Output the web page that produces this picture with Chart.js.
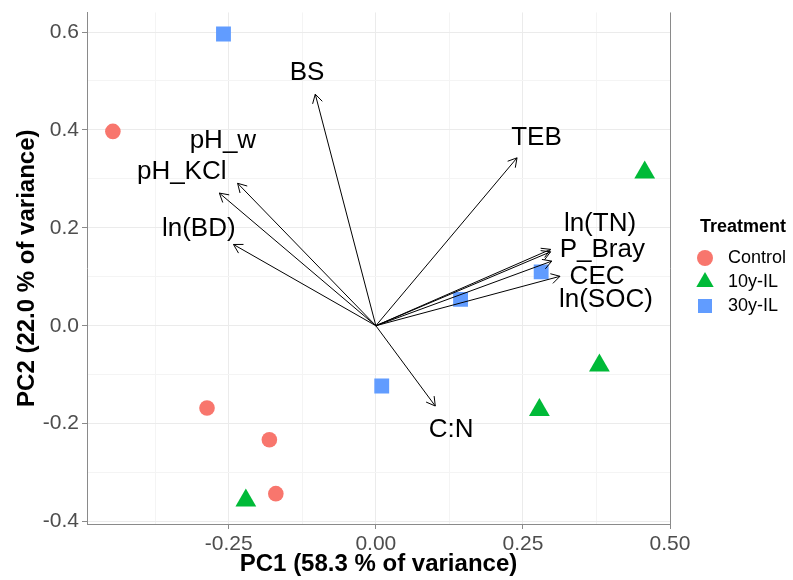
<!DOCTYPE html>
<html>
<head>
<meta charset="utf-8">
<script src="https://cdn.jsdelivr.net/npm/chart.js@4.4.1/dist/chart.umd.min.js"></script>
<style>
  html, body { margin: 0; padding: 0; background: #fff; }
</style>
</head>
<body>
<canvas id="pca" width="793" height="580"></canvas>
<script>
// sample scores on PC1 / PC2, one pair of arrays per treatment
const treatments = ['Control', '10y-IL', '30y-IL'];
const controlPC1 = [-0.447, -0.287, -0.181, -0.170];
const controlPC2 = [0.397, -0.168, -0.233, -0.343];
const il10PC1 = [-0.221, 0.457, 0.380, 0.278];
const il10PC2 = [-0.357, 0.313, -0.081, -0.172];
const il30PC1 = [-0.259, 0.010, 0.144, 0.281];
const il30PC2 = [0.596, -0.123, 0.054, 0.110];

// variable loadings (arrow tips) and where the names are written
const variables = ['BS', 'pH_w', 'pH_KCl', 'ln(BD)', 'TEB', 'ln(TN)', 'P_Bray', 'CEC', 'ln(SOC)', 'C:N'];
const loadPC1 = [-0.103, -0.235, -0.266, -0.242, 0.240, 0.297, 0.297, 0.299, 0.313, 0.101];
const loadPC2 = [0.473, 0.291, 0.271, 0.166, 0.343, 0.156, 0.151, 0.132, 0.101, -0.164];
const labelPC1 = [-0.117, -0.260, -0.330, -0.301, 0.273, 0.381, 0.385, 0.376, 0.391, 0.128];
const labelPC2 = [0.517, 0.378, 0.314, 0.198, 0.384, 0.209, 0.156, 0.100, 0.052, -0.212];

// axes
const xTicks = [-0.25, 0, 0.25, 0.5];
const xTickLabels = ['-0.25', '0.00', '0.25', '0.50'];
const xMinor = [-0.375, -0.125, 0.125, 0.375];
const yTicks = [-0.4, -0.2, 0, 0.2, 0.4, 0.6];
const yTickLabels = ['-0.4', '-0.2', '0.0', '0.2', '0.4', '0.6'];
const yMinor = [-0.3, -0.1, 0.1, 0.3, 0.5];

const colors = ['#F8766D', '#00BA38', '#619CFF'];
const FONT = "'Liberation Sans', Arial, sans-serif";
const AXIS = '#8a8a8a';

const pts = (xs, ys) => xs.map((v, i) => ({ x: v, y: ys[i] }));
const isIn = (arr, v) => arr.some(t => Math.abs(t - v) < 1e-6);
const labelFor = (majors, labels, v) => {
  const i = majors.findIndex(t => Math.abs(t - v) < 1e-6);
  return i < 0 ? '' : labels[i];
};

// arrows + variable names on top of the points
const biplotArrows = {
  id: 'biplotArrows',
  afterDatasetsDraw(chart) {
    const { ctx, scales: { x, y } } = chart;
    const x0 = x.getPixelForValue(0), y0 = y.getPixelForValue(0);
    ctx.save();
    ctx.strokeStyle = '#000';
    ctx.lineWidth = 1;
    variables.forEach((name, i) => {
      const x1 = x.getPixelForValue(loadPC1[i]);
      const y1 = y.getPixelForValue(loadPC2[i]);
      const a = Math.atan2(y1 - y0, x1 - x0);
      const len = 10, spread = Math.PI / 6;
      ctx.beginPath();
      ctx.moveTo(x0, y0);
      ctx.lineTo(x1, y1);
      ctx.moveTo(x1 - len * Math.cos(a - spread), y1 - len * Math.sin(a - spread));
      ctx.lineTo(x1, y1);
      ctx.lineTo(x1 - len * Math.cos(a + spread), y1 - len * Math.sin(a + spread));
      ctx.stroke();
    });
    ctx.fillStyle = '#000';
    ctx.font = '26px ' + FONT;
    ctx.textAlign = 'center';
    ctx.textBaseline = 'middle';
    variables.forEach((name, i) => {
      ctx.fillText(name, x.getPixelForValue(labelPC1[i]), y.getPixelForValue(labelPC2[i]));
    });
    ctx.restore();
  }
};

// ggplot-style legend on the right
const sideLegend = {
  id: 'sideLegend',
  afterDraw(chart) {
    const { ctx } = chart;
    ctx.save();
    ctx.textAlign = 'left';
    ctx.textBaseline = 'middle';
    ctx.fillStyle = '#000';
    ctx.font = 'bold 18px ' + FONT;
    ctx.fillText('Treatment', 700, 227);
    ctx.font = '18px ' + FONT;
    treatments.forEach((t, i) => {
      const cy = 258 + i * 24, cx = 705;
      ctx.fillStyle = colors[i];
      ctx.beginPath();
      if (i === 0) ctx.arc(cx, cy, 8, 0, Math.PI * 2);
      else if (i === 1) { ctx.moveTo(cx, cy - 10); ctx.lineTo(cx + 8.7, cy + 5); ctx.lineTo(cx - 8.7, cy + 5); ctx.closePath(); }
      else ctx.rect(cx - 7, cy - 7, 14, 14);
      ctx.fill();
      ctx.fillStyle = '#000';
      ctx.fillText(t, 728, cy);
    });
    ctx.restore();
  }
};

const scaleOpts = (majors, minors, labels, min, max, title, titlePad, size, tickPad) => ({
  type: 'linear',
  min, max,
  afterBuildTicks: s => { s.ticks = majors.concat(minors).sort((a, b) => a - b).map(v => ({ value: v })); },
  afterFit: s => { if (s.isHorizontal()) s.height = size; else s.width = size; },
  ticks: {
    autoSkip: false,
    maxRotation: 0,
    padding: tickPad,
    color: '#4D4D4D',
    font: { family: FONT, size: 21, lineHeight: 0.9 },
    callback: v => labelFor(majors, labels, v)
  },
  grid: {
    tickLength: 5,
    lineWidth: 1,
    color: c => Math.abs(c.tick.value - 0.5) < 1e-6 && majors === xTicks ? AXIS : (isIn(majors, c.tick.value) ? '#EBEBEB' : '#F4F4F4'),
    tickColor: c => isIn(majors, c.tick.value) ? AXIS : 'rgba(0,0,0,0)'
  },
  border: { display: true, color: AXIS, width: 1 },
  title: {
    display: true,
    text: title,
    color: '#000',
    font: { family: FONT, size: 24, weight: 'bold' },
    padding: titlePad
  }
});

new Chart(document.getElementById('pca'), {
  type: 'scatter',
  data: {
    datasets: [
      { label: treatments[0], data: pts(controlPC1, controlPC2), pointStyle: 'circle', pointRadius: 7.8 },
      { label: treatments[1], data: pts(il10PC1, il10PC2), pointStyle: 'triangle', pointRadius: 12 },
      { label: treatments[2], data: pts(il30PC1, il30PC2), pointStyle: 'rect', pointRadius: 10.5 }
    ].map((d, i) => Object.assign(d, {
      backgroundColor: colors[i], borderColor: colors[i], borderWidth: 0, pointHoverRadius: d.pointRadius
    }))
  },
  options: {
    responsive: false,
    animation: false,
    devicePixelRatio: 1,
    layout: { padding: { top: 11, right: 123, left: 0, bottom: 0 } },
    plugins: { legend: { display: false }, tooltip: { enabled: false } },
    scales: {
      x: scaleOpts(xTicks, xMinor, xTickLabels, -0.491, 0.5, 'PC1 (58.3 % of variance)', { top: 0, bottom: 1 }, 56, 6),
      y: scaleOpts(yTicks, yMinor, yTickLabels, -0.405, 0.640, 'PC2 (22.0 % of variance)', { top: 13, bottom: 0 }, 87, 3)
    }
  },
  plugins: [biplotArrows, sideLegend]
});
</script>
</body>
</html>
